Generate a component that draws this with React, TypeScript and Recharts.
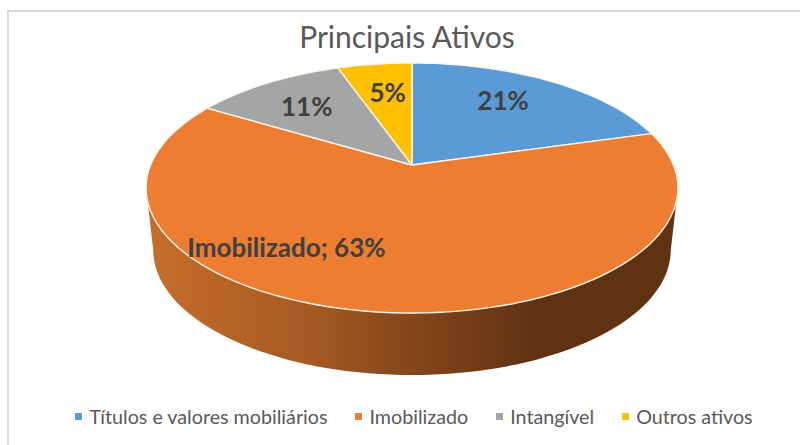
import { PieChart, Pie, Cell, Legend } from "recharts";

const categories = ["Títulos e valores mobiliários", "Imobilizado", "Intangível", "Outros ativos"];
const shares = [20.6, 63, 11, 5.4];
const colors = ["#5B9BD5", "#ED7D31", "#A5A5A5", "#FFC000"];
const namedLabels = ["Imobilizado"];

const pieData = categories.map((name, i) => ({ name, value: shares[i] }));

// perspective of the tilted disc
const TILT = 0.184;
const WIDTH_R = 261.4;
const HEIGHT_R = 120.8;
const DEPTH = 62;
const BOTTOM_SCALE = 0.973;
const FRONT_FROM = -10.6;
const FRONT_TO = -169.4;

const labelSpots = [
    { r: 0.7, dx: -9, dy: -4 },
    { r: 0.7, dx: -98, dy: -14 },
    { r: 0.7, dx: 0, dy: 1 },
    { r: 0.7, dx: 3, dy: 1 },
];

function project(cx: number, cy: number, angle: number, r = 1) {
    const rad = (angle * Math.PI) / 180;
    const X = r * Math.cos(rad);
    const Y = r * Math.sin(rad);
    const w = 1 + TILT * Y;
    return { x: cx + (WIDTH_R * X) / w, y: cy - (HEIGHT_R * Y) / w };
}

function arcPoints(cx: number, cy: number, from: number, to: number) {
    const steps = Math.max(2, Math.ceil(Math.abs(from - to) / 2));
    const pts = [];
    for (let i = 0; i <= steps; i++) {
        pts.push(project(cx, cy, from + ((to - from) * i) / steps));
    }
    return pts;
}

const toPath = (pts: { x: number; y: number }[]) =>
    pts.map((p, i) => `${i === 0 ? "M" : "L"}${p.x.toFixed(1)},${p.y.toFixed(1)}`).join(" ");

function DiscSector(props: any) {
    const { cx, cy, startAngle, endAngle, fill } = props;
    const top = arcPoints(cx, cy, startAngle, endAngle);
    const hi = Math.min(startAngle, FRONT_FROM);
    const lo = Math.max(endAngle, FRONT_TO);
    let wall = null;
    if (hi > lo) {
        const rim = arcPoints(cx, cy, hi, lo);
        const bottom = rim
            .map((p) => ({ x: cx + (p.x - cx) * BOTTOM_SCALE, y: p.y + DEPTH }))
            .reverse();
        wall = <path d={`${toPath(rim)} ${toPath(bottom).replace("M", "L")} Z`} fill="url(#wallShade)" />;
    }
    return (
        <g>
            {wall}
            <path d={`M${cx},${cy} ${toPath(top).replace("M", "L")} Z`} fill={fill} stroke="#fdf3ea" strokeWidth={1.4} strokeLinejoin="round" />
        </g>
    );
}

function SliceLabel(props: any) {
    const { cx, cy, midAngle, name, value, index } = props;
    const spot = labelSpots[index];
    const p = project(cx, cy, midAngle, spot.r);
    const pct = Math.floor(value + 0.49);
    const text = namedLabels.includes(name) ? `${name}; ${pct}%` : `${pct}%`;
    return (
        <text
            x={p.x + spot.dx}
            y={p.y + spot.dy}
            textAnchor="middle"
            dominantBaseline="central"
            fontFamily="Lato"
            fontWeight={700}
            fontSize={26}
            fill="#404040"
        >
            {text}
        </text>
    );
}

function LegendRow({ payload }: any) {
    return (
        <div style={{ display: "flex", justifyContent: "center", gap: 28, fontFamily: "Lato", fontSize: 19.7, color: "#595959" }}>
            {(payload || []).map((item: any) => (
                <span key={item.value} style={{ display: "flex", alignItems: "center", gap: 7 }}>
                    <span style={{ width: 7, height: 7, background: item.color, display: "inline-block" }} />
                    {item.value}
                </span>
            ))}
        </div>
    );
}

export default function App() {
    return (
        <div style={{ position: "absolute", left: 0, top: 0, width: 800, height: 445, overflow: "hidden", background: "#fff" }}>
            <div style={{ position: "absolute", left: 7, top: 10, width: 800, height: 440, borderLeft: "2px solid #d9d9d9", borderTop: "2px solid #d9d9d9" }} />
            <div style={{ position: "absolute", left: 0, top: 0 }}>
                <PieChart width={800} height={445} margin={{ top: 0, right: 0, bottom: 0, left: 0 }}>
                    <defs>
                        <linearGradient id="wallShade" gradientUnits="userSpaceOnUse" x1={146} y1={0} x2={678} y2={0}>
                            <stop offset="0" stopColor="#C66E2A" />
                            <stop offset="0.3" stopColor="#A55A22" />
                            <stop offset="0.5" stopColor="#84461C" />
                            <stop offset="0.74" stopColor="#5F3212" />
                            <stop offset="1" stopColor="#5F3212" />
                        </linearGradient>
                    </defs>
                    <text x={407} y={48} textAnchor="middle" fontFamily="Lato" fontSize={30} fill="#595959">
                        Principais Ativos
                    </text>
                    <Pie
                        data={pieData}
                        dataKey="value"
                        nameKey="name"
                        cx={412}
                        cy={165}
                        outerRadius={120}
                        startAngle={90}
                        endAngle={-270}
                        stroke="none"
                        shape={DiscSector}
                        label={SliceLabel}
                        labelLine={false}
                        isAnimationActive={false}
                    >
                        {categories.map((name, i) => (
                            <Cell key={name} fill={colors[i]} />
                        ))}
                    </Pie>
                    <Legend content={LegendRow} itemSorter={null} wrapperStyle={{ left: 0, top: 405, width: 828 }} />
                </PieChart>
            </div>
        </div>
    );
}
